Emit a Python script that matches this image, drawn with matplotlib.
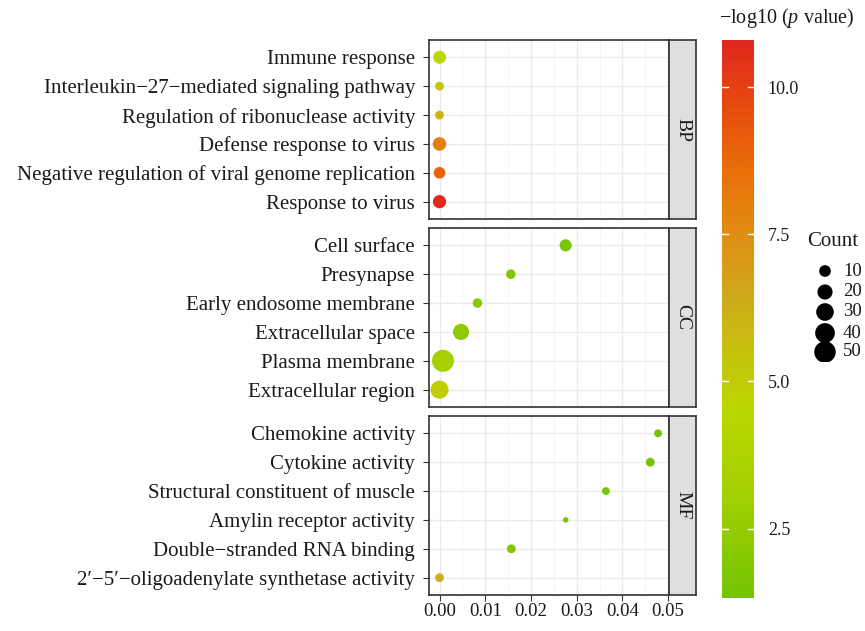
import numpy as np
import matplotlib
matplotlib.use("Agg")
import matplotlib.pyplot as plt
from matplotlib.colors import LinearSegmentedColormap, Normalize

plt.rcParams['font.family'] = ['Liberation Serif', 'DejaVu Serif']
plt.rcParams['mathtext.fontset'] = 'custom'
plt.rcParams['mathtext.rm'] = 'Liberation Serif'
plt.rcParams['mathtext.it'] = 'Liberation Serif:italic'

# data
bp_terms = ["Immune response", "Interleukin\u221227\u2212mediated signaling pathway",
            "Regulation of ribonuclease activity", "Defense response to virus",
            "Negative regulation of viral genome replication", "Response to virus"]
bp_p = [2.5e-5, 4e-6, 8e-7, 1e-8, 1e-9, 1.6e-11]
bp_count = [13, 5, 5, 15, 10, 14]

cc_terms = ["Cell surface", "Presynapse", "Early endosome membrane",
            "Extracellular space", "Plasma membrane", "Extracellular region"]
cc_p = [0.0276, 0.0156, 0.0083, 0.0047, 0.00076, 1e-5]
cc_count = [11, 6, 6, 24, 53, 32]

mf_terms = ["Chemokine activity", "Cytokine activity", "Structural constituent of muscle",
            "Amylin receptor activity", "Double\u2212stranded RNA binding",
            "2\u2032\u22125\u2032\u2212oligoadenylate synthetase activity"]
mf_p = [0.0478, 0.0461, 0.0364, 0.0276, 0.0157, 6e-7]
mf_count = [4, 5, 4, 3, 5, 5]

groups = ["BP", "CC", "MF"]
legend_counts = [10, 20, 30, 40, 50]
cbar_ticks = [2.5, 5.0, 7.5, 10.0]

panels = [(bp_terms, bp_p, bp_count), (cc_terms, cc_p, cc_count), (mf_terms, mf_p, mf_count)]

# colour scale
stops = [(1.32, "#74C400"), (3.0, "#A2D000"), (4.5, "#BCD800"), (5.5, "#C6C20E"),
         (6.5, "#D0A81C"), (7.5, "#E08E14"), (8.5, "#E8720A"), (9.5, "#E8520C"),
         (10.8, "#E0281E")]
vmin, vmax = stops[0][0], stops[-1][0]
cmap = LinearSegmentedColormap.from_list(
    "pv", [((v - vmin) / (vmax - vmin), c) for v, c in stops])
norm = Normalize(vmin, vmax)

cmin, cmax = 3, 53
def msize(c):
    d_px = 5.5 + 16.5 * np.sqrt((np.asarray(c, float) - cmin) / (cmax - cmin))
    return (d_px * 0.72) ** 2

W, H = 865, 631
fig = plt.figure(figsize=(W / 100, H / 100), dpi=100)

def fx(px):
    return px / W

def fy(py):
    return 1 - py / H

tops = [40, 228, 416]
ph = 179
left, right, strip_r = 429, 669, 696
dark = "#333333"
txt = "#1A1A1A"

for i, (terms, pv, cnt) in enumerate(panels):
    t = tops[i]
    ax = fig.add_axes([fx(left), fy(t + ph), fx(right - left), ph / H])
    n = len(terms)
    ypos = np.arange(n)[::-1] + 1
    lp = -np.log10(pv)
    ax.scatter(pv, ypos, s=msize(cnt), c=lp, cmap=cmap, norm=norm,
               edgecolors='none', zorder=3)
    ax.set_xlim(-0.0023, 0.0502)
    ax.set_ylim(0.4, n + 0.6)
    ax.set_yticks(ypos)
    ax.set_yticklabels(terms, fontsize=15, color=txt)
    ax.set_xticks(np.arange(0, 0.051, 0.01))
    ax.set_xticks(np.arange(0.005, 0.05, 0.01), minor=True)
    ax.grid(True, which='major', color="#EBEBEB", lw=1.0, zorder=0)
    ax.grid(True, which='minor', axis='x', color="#F2F2F2", lw=0.6, zorder=0)
    ax.tick_params(axis='y', length=4, width=0.8, color=dark, pad=6)
    ax.tick_params(axis='x', which='minor', length=0)
    if i < 2:
        ax.tick_params(axis='x', labelbottom=False, length=0)
    else:
        ax.set_xticklabels(["0.00", "0.01", "0.02", "0.03", "0.04", "0.05"])
        ax.tick_params(axis='x', length=4, width=0.8, color=dark, labelsize=13.5,
                       labelcolor=txt, pad=2)
    for sp in ax.spines.values():
        sp.set_color(dark)
        sp.set_linewidth(1.2)
    ax.set_axisbelow(True)

    sax = fig.add_axes([fx(right), fy(t + ph), fx(strip_r - right), ph / H])
    sax.set_facecolor("#E0DEDE")
    sax.set_xticks([])
    sax.set_yticks([])
    for sp in sax.spines.values():
        sp.set_color(dark)
        sp.set_linewidth(1.2)
    sax.text(0.5, 0.5, groups[i], rotation=-90, ha='center', va='center',
             fontsize=14, color=txt, transform=sax.transAxes)

# colour bar
cb_top, cb_bot, cb_l, cb_r = 40, 598, 722, 754
cax = fig.add_axes([fx(cb_l), fy(cb_bot), fx(cb_r - cb_l), (cb_bot - cb_top) / H])
grad = np.linspace(vmin, vmax, 300).reshape(-1, 1)
cax.imshow(grad, aspect='auto', cmap=cmap, norm=norm, origin='lower',
           extent=[0, 1, vmin, vmax])
cax.set_xlim(0, 1)
cax.set_ylim(vmin, vmax)
cax.set_xticks([])
cax.yaxis.tick_right()
cax.set_yticks(cbar_ticks)
cax.set_yticklabels(["%.1f" % v for v in cbar_ticks], fontsize=13, color=txt)
cax.tick_params(axis='y', length=0, pad=10)
for v in cbar_ticks:
    cax.plot([0, 0.18], [v, v], color='white', lw=1)
    cax.plot([0.82, 1], [v, v], color='white', lw=1)
for sp in cax.spines.values():
    sp.set_visible(False)
fig.text(fx(719), fy(18), "\u2212log10 ($p$ value)", fontsize=14.5, color=txt,
         ha='left', va='center')

# size legend
fig.text(fx(807), fy(242), "Count", fontsize=15, color=txt, ha='left', va='center')
lax = fig.add_axes([fx(805), fy(362), fx(60), 100 / H])
lax.set_xlim(0, 60)
lax.set_ylim(100, 0)
lax.axis('off')
ly = [271, 292, 312, 333, 352]
lax.scatter([20] * len(legend_counts), [v - 262 for v in ly], s=msize(legend_counts),
            c='black', edgecolors='none')
for c, v in zip(legend_counts, ly):
    lax.text(38, v - 262, str(c), fontsize=13.5, color=txt, va='center', ha='left')

fig.savefig("out.png", dpi=100)
